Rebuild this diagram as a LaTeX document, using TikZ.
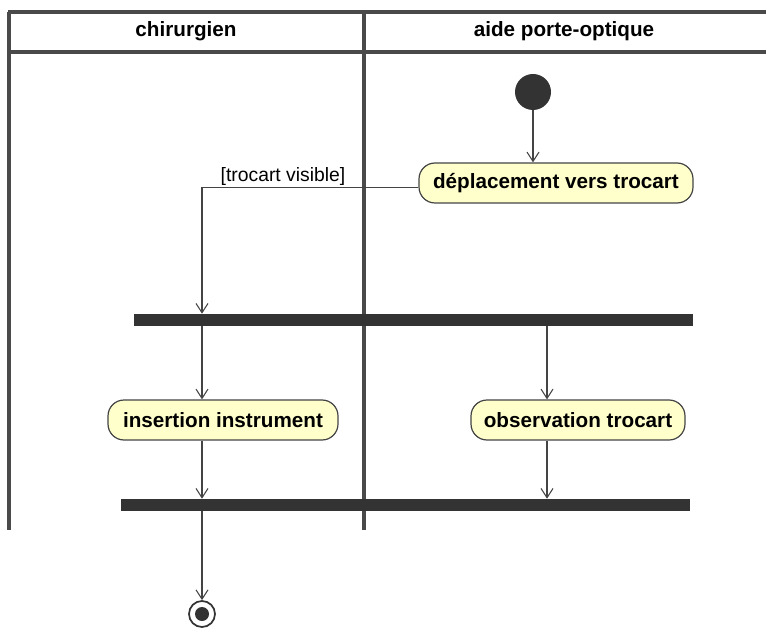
\documentclass[tikz,border=0pt]{standalone}
\usepackage{fontspec}
\setmainfont{Liberation Sans}
\usetikzlibrary{arrows.meta}
\definecolor{lanec}{HTML}{4A4A4A}
\definecolor{actc}{HTML}{444444}
\definecolor{actfill}{HTML}{FFFFCC}
\definecolor{barc}{HTML}{333333}
\definecolor{flowc}{HTML}{444444}
\begin{document}
\begin{tikzpicture}[x=0.75pt,y=-0.75pt,
  lane/.style={draw=lanec,line width=2.4pt},
  action/.style={draw=actc,fill=actfill,rounded corners=12pt,line width=0.9pt,
    minimum height=30pt,inner sep=0pt,font=\bfseries\fontsize{15.5}{18}\selectfont},
  bar/.style={fill=barc,draw=none,inner sep=0pt,minimum height=9pt},
  flow/.style={draw=flowc,line width=0.8pt,-{Straight Barb[length=7pt,width=9pt]}},
  hdr/.style={font=\bfseries\fontsize{15.5}{18}\selectfont},
  guard/.style={font=\fontsize{14.5}{17}\selectfont,inner sep=1pt}]
\useasboundingbox (0,0) rectangle (766,634);
% swimlanes
\draw[lane] (8,12) -- (766,12);
\draw[lane] (8,52) -- (766,52);
\draw[lane] (9,12) -- (9,530);
\draw[lane] (364,12) -- (364,530);
\node[hdr] (h1) at (186,31) {chirurgien};
\node[hdr] (h2) at (564,31) {aide porte-optique};
% nodes
\node[circle,fill=barc,minimum size=27pt,inner sep=0pt] (start) at (533,92) {};
\node[action,minimum width=205.5pt] (dep) at (556,183) {déplacement vers trocart};
\node[bar,minimum width=419pt] (fork) at (413.5,320) {};
\node[action,minimum width=172.5pt] (ins) at (223,420) {insertion instrument};
\node[action,minimum width=160.5pt] (obs) at (578,420) {observation trocart};
\node[bar,minimum width=427pt] (join) at (405.5,505) {};
\node[circle,draw=barc,line width=1.3pt,fill=white,minimum size=19.5pt,inner sep=0pt] (final) at (202,614) {};
\node[circle,fill=barc,minimum size=10.5pt,inner sep=0pt] at (final) {};
\coordinate (xl) at (202,0);
\coordinate (xr) at (547,0);
\coordinate (dw) at ([yshift=-3.5pt]dep.west);
\node[guard,anchor=south] (lbl) at (283,187) {[trocart visible]};
% flows
\draw[flow] (start) -- (start |- dep.north);
\draw[flow] (dw) -| (xl |- fork.north);
\draw[flow] (xl |- fork.south) -- (xl |- ins.north);
\draw[flow] (xr |- fork.south) -- (xr |- obs.north);
\draw[flow] (xl |- ins.south) -- (xl |- join.north);
\draw[flow] (xr |- obs.south) -- (xr |- join.north);
\draw[flow] (xl |- join.south) -- (final.north);
\end{tikzpicture}
\end{document}
